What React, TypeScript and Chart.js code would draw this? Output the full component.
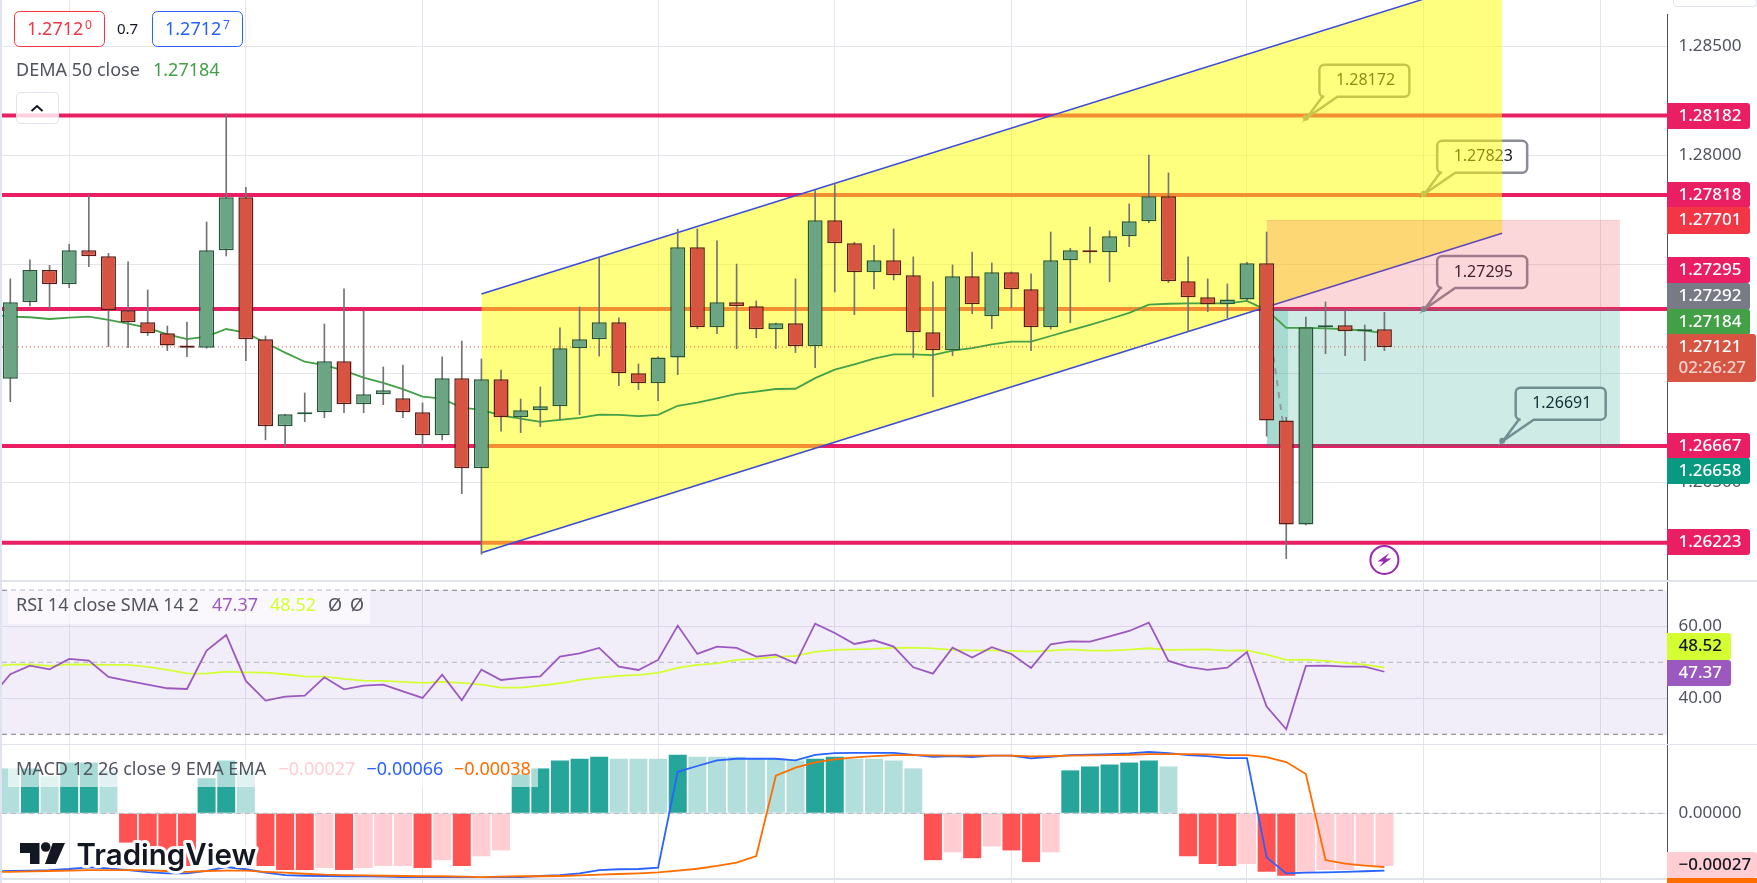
import { useEffect, useRef } from "react"
import { Chart, registerables } from "chart.js"

Chart.register(...registerables)

// Candles, oldest first
const opens = [
  1.26975, 1.27326, 1.27474, 1.27408, 1.27564, 1.27537, 1.27289, 1.27234, 1.27184, 1.27127,
  1.27117, 1.27564, 1.27807, 1.27156, 1.26757, 1.26812, 1.26821, 1.27055, 1.26858, 1.26904,
  1.26885, 1.26821, 1.26716, 1.26977, 1.26564, 1.26973, 1.26798, 1.2683, 1.26849, 1.27115,
  1.27156, 1.27234, 1.27, 1.26954, 1.27073, 1.27578, 1.27211, 1.27326, 1.27307, 1.27202,
  1.27229, 1.27124, 1.27702, 1.27596, 1.27463, 1.27518, 1.2745, 1.27188, 1.27106, 1.27445,
  1.27262, 1.27463, 1.27385, 1.27211, 1.27518, 1.27564, 1.27555, 1.27629, 1.27697, 1.27812,
  1.27422, 1.27349, 1.27317, 1.27339, 1.27505, 1.26784, 1.26307, 1.27211, 1.2722, 1.27193,
  1.27202,
]
const closes = [
  1.27326, 1.27474, 1.27408, 1.27564, 1.27537, 1.27289, 1.27234, 1.27184, 1.27127, 1.27117,
  1.27564, 1.27807, 1.27156, 1.26757, 1.26812, 1.26821, 1.27055, 1.26858, 1.26904, 1.26922,
  1.26821, 1.26716, 1.26977, 1.26564, 1.26973, 1.26798, 1.2683, 1.26849, 1.27115, 1.27156,
  1.27234, 1.27, 1.26954, 1.27073, 1.27578, 1.27211, 1.27326, 1.27307, 1.27202, 1.27229,
  1.27124, 1.27702, 1.27596, 1.27463, 1.27518, 1.2745, 1.27188, 1.27106, 1.27445, 1.27317,
  1.27463, 1.27385, 1.27211, 1.27518, 1.27564, 1.27555, 1.27629, 1.27697, 1.27812, 1.27422,
  1.27349, 1.27317, 1.27339, 1.27505, 1.26784, 1.26307, 1.27211, 1.2722, 1.27193, 1.27202,
  1.27121,
]
const highs = [
  1.27433, 1.2752, 1.27495, 1.27592, 1.27818, 1.2755, 1.27511, 1.27382, 1.27217, 1.27235,
  1.27694, 1.28189, 1.27853, 1.27171, 1.26812, 1.2691, 1.27226, 1.27387, 1.27286, 1.27029,
  1.27038, 1.26864, 1.27075, 1.27148, 1.27066, 1.27015, 1.26882, 1.26937, 1.27208, 1.27304,
  1.27529, 1.27254, 1.27043, 1.27075, 1.27661, 1.27662, 1.27607, 1.27501, 1.27332, 1.2723,
  1.27433, 1.27838, 1.27872, 1.27601, 1.27587, 1.27662, 1.27534, 1.27419, 1.27497, 1.27556,
  1.27506, 1.27465, 1.27456, 1.27648, 1.27573, 1.27671, 1.27653, 1.27777, 1.28001, 1.27919,
  1.27534, 1.27433, 1.2741, 1.27509, 1.27648, 1.26798, 1.27258, 1.27327, 1.27286, 1.27222,
  1.2728,
]
const lows = [
  1.2687, 1.27309, 1.27294, 1.27393, 1.27489, 1.27122, 1.27117, 1.27173, 1.27104, 1.27076,
  1.27115, 1.27538, 1.27058, 1.26695, 1.26663, 1.26778, 1.26796, 1.26819, 1.26819, 1.26856,
  1.26796, 1.26663, 1.26695, 1.26448, 1.2617, 1.26735, 1.26728, 1.26755, 1.26786, 1.2681,
  1.27079, 1.26943, 1.26925, 1.26874, 1.26994, 1.27205, 1.27182, 1.27113, 1.27163, 1.27113,
  1.27095, 1.27026, 1.27373, 1.27269, 1.27387, 1.27428, 1.27072, 1.26893, 1.27081, 1.27273,
  1.27205, 1.27301, 1.27104, 1.27203, 1.27232, 1.27506, 1.2742, 1.27581, 1.27691, 1.27416,
  1.27191, 1.27283, 1.27255, 1.27335, 1.26712, 1.2615, 1.26305, 1.2709, 1.27081, 1.27058,
  1.27104,
]
const dema = [
  1.2726, 1.27257, 1.27249, 1.27255, 1.2726, 1.27245, 1.27228, 1.27208, 1.27179, 1.27157,
  1.27168, 1.27203, 1.27186, 1.2714, 1.27095, 1.27053, 1.27037, 1.27012, 1.2698, 1.26956,
  1.26927, 1.26893, 1.26884, 1.26842, 1.26832, 1.26807, 1.26792, 1.26777, 1.26786, 1.26796,
  1.2681, 1.26809, 1.26804, 1.26809, 1.26851, 1.26865, 1.26885, 1.26906, 1.26916, 1.26928,
  1.26929, 1.26978, 1.27017, 1.27041, 1.27067, 1.27087, 1.27087, 1.27083, 1.27104, 1.27115,
  1.27133, 1.27145, 1.27145, 1.27171, 1.27197, 1.27222, 1.27249, 1.27277, 1.27315, 1.27319,
  1.27321, 1.27321, 1.27321, 1.27332, 1.2729, 1.27208, 1.27208, 1.27206, 1.27202, 1.27196,
  1.27184,
]
const rsi = [
  46.67, 49.07, 48.06, 50.93, 50.46, 45.93, 44.81, 43.8, 42.78, 42.59,
  53.24, 57.59, 44.81, 39.35, 40.46, 40.74, 45.83, 42.5, 43.52, 43.8,
  41.94, 40.09, 46.57, 39.44, 47.96, 45.09, 45.65, 46.11, 51.57, 52.5,
  53.98, 48.8, 47.87, 50.65, 60.19, 52.31, 54.35, 53.98, 51.57, 52.13,
  49.72, 60.74, 58.15, 55.09, 56.11, 54.35, 48.61, 46.85, 54.07, 51.3,
  54.17, 52.31, 48.43, 55.0, 55.83, 55.74, 57.22, 58.7, 61.02, 50.37,
  48.7, 47.87, 48.52, 52.87, 37.69, 31.39, 48.98, 49.07, 48.8, 48.8,
  47.37,
]
const rsiSma = [
  49.35, 49.44, 48.98, 49.44, 49.35, 49.26, 49.26, 48.7, 47.87, 46.94,
  46.85, 47.41, 47.22, 47.13, 46.67, 46.11, 46.02, 45.37, 44.91, 44.81,
  44.54, 44.26, 44.54, 44.26, 43.8, 42.96, 42.96, 43.52, 44.17, 45.09,
  45.74, 46.2, 46.48, 47.04, 48.43, 49.26, 49.72, 50.65, 51.02, 51.48,
  51.76, 52.87, 53.43, 53.61, 53.7, 53.98, 54.07, 53.89, 53.43, 53.33,
  53.33, 53.15, 52.96, 53.24, 53.61, 53.24, 53.24, 53.52, 53.89, 53.43,
  53.52, 53.61, 53.24, 53.33, 52.13, 50.65, 50.74, 50.37, 49.81, 49.35,
  48.52,
]
const histogram = [
  0.00023, 0.00023, 0.00019, 0.00026, 0.00026, 0.00022, -0.00015, -0.00017, -0.00021, -0.00027,
  0.00018, 0.00027, 0.00022, -0.00027, -0.00029, -0.00029, -0.00028, -0.00029, -0.00028, -0.00027,
  -0.00027, -0.00028, -0.00024, -0.00027, -0.00022, -0.00019, 0.0002, 0.00023, 0.00027, 0.00028,
  0.00029, 0.00028, 0.00028, 0.00028, 0.0003, 0.00029, 0.00029, 0.00029, 0.00028, 0.00028,
  0.00027, 0.00028, 0.00029, 0.00028, 0.00028, 0.00027, 0.00023, -0.00024, -0.0002, -0.00023,
  -0.00017, -0.00019, -0.00025, -0.0002, 0.00022, 0.00024, 0.00025, 0.00026, 0.00027, 0.00024,
  -0.00022, -0.00026, -0.00027, -0.00026, -0.0003, -0.00032, -0.0003, -0.00029, -0.00029, -0.00027,
  -0.00027,
]
// 1 = strong histogram colour, 0 = faded
const histogramStrong = [
  0, 1, 0, 1, 1, 0, 1, 1, 1, 1,
  1, 1, 0, 1, 1, 1, 0, 1, 0, 0,
  0, 1, 0, 1, 0, 0, 1, 1, 1, 1,
  1, 0, 0, 0, 1, 0, 0, 0, 0, 0,
  0, 1, 1, 0, 0, 0, 0, 1, 0, 1,
  0, 1, 1, 0, 1, 1, 1, 1, 1, 0,
  1, 1, 1, 0, 1, 1, 0, 0, 0, 0,
  0,
]
const macd = [
  -0.00068, -0.00065, -0.00061, -0.00053, -0.0004, -0.00048, -0.00061, -0.00076, -0.00086, -0.00086,
  -0.00068, -0.00038, -0.00055, -0.00081, -0.00099, -0.00104, -0.00106, -0.00108, -0.00108, -0.00111,
  -0.00114, -0.00114, -0.00116, -0.00116, -0.00119, -0.00116, -0.00114, -0.00106, -0.00099, -0.00086,
  -0.00061, -0.00055, -0.00053, -0.00043, 0.00683, 0.00727, 0.0077, 0.00782, 0.00782, 0.00782,
  0.0077, 0.00812, 0.00825, 0.00827, 0.00827, 0.00827, 0.00812, 0.00797, 0.00802, 0.00795,
  0.00805, 0.00805, 0.00785, 0.00797, 0.0081, 0.00812, 0.00817, 0.00823, 0.00833, 0.00825,
  0.0081, 0.00802, 0.00787, 0.00787, 0.00035, -0.00086, -0.00081, -0.00078, -0.00074, -0.0007,
  -0.00066,
]
const macdSignal = [
  -0.00074, -0.00071, -0.00068, -0.00066, -0.00061, -0.00061, -0.00061, -0.00063, -0.00068, -0.00074,
  -0.00068, -0.00066, -0.00066, -0.00074, -0.00081, -0.00089, -0.00096, -0.00099, -0.00101, -0.00104,
  -0.00106, -0.00108, -0.00108, -0.00111, -0.00114, -0.00111, -0.00108, -0.00108, -0.00106, -0.00101,
  -0.00096, -0.00091, -0.00086, -0.00078, -0.00066, -0.00051, -0.0003, -0.00005, 0.00045, 0.00653,
  0.00714, 0.00755, 0.00777, 0.00792, 0.00802, 0.0081, 0.0081, 0.00808, 0.00805, 0.00805,
  0.00805, 0.00805, 0.008, 0.00802, 0.00805, 0.00808, 0.0081, 0.00812, 0.00817, 0.00817,
  0.00817, 0.00815, 0.0081, 0.0081, 0.00795, 0.00757, 0.00666, 0.00015, -0.00013, -0.00028,
  -0.00038,
]

// readings of the bar just off the left edge, so the lines run into the frame
const demaBefore = 1.27271
const rsiBefore = 40.19
const rsiSmaBefore = 48.9
const macdBefore = -0.0007
const macdSignalBefore = -0.00077

const levels = [1.28182, 1.27818, 1.27295, 1.26667, 1.26223]
const lastPrice = 1.27121
const priceTicks = [1.285, 1.28, 1.275, 1.27, 1.265]
const rsiTicks = [60, 40]
const macdTicks = [0]
const gridBars = [3, 12, 21, 33, 42, 51, 63, 72, 81]

// channel: bar index and price at both ends of each rail
const channelBars = [24, 76]
const channelUpper = [1.27364, 1.28829]
const channelLower = [1.26177, 1.27642]

// long position drawing
const positionBars = [64, 82]
const positionEntry = 1.27295
const positionTarget = 1.26667
const positionStop = 1.27701
const filledBars = [64, 65.1]

const calloutValues = [1.28172, 1.27823, 1.27295, 1.26691]
const calloutBars = [66, 72, 72, 76]
const eventPrice = 1.26144

const tagLabels = ["1.28182", "1.27818", "1.27701", "1.27295", "1.27292", "1.27184", "1.26667", "1.26658", "1.26223"]

const FONT = '"Noto Sans", sans-serif'
const GRID = "#e4e6ec"
const AXIS = "#50535e"
const PLOT_LEFT = 2
const AXIS_WIDTH = 90
const BAR0_X = 10.3
const BAR_STEP = 19.63
const xMin = (PLOT_LEFT - BAR0_X) / BAR_STEP
const xMax = (1667 - BAR0_X) / BAR_STEP
const barIdx = opens.map((_, i) => i)

const xy = (values: number[], before?: number) => {
  const pts = values.map((y, i) => ({ x: i, y }))
  return before === undefined ? pts : [{ x: -1, y: before }, ...pts]
}
const flat = (y: number, from = xMin, to = xMax) => [{ x: from, y }, { x: to, y }]

function xScale() {
  return {
    type: "linear",
    min: xMin,
    max: xMax,
    offset: false,
    afterBuildTicks: (s: any) => {
      s.ticks = gridBars.map((value) => ({ value }))
    },
    ticks: { display: false },
    border: { display: false },
    grid: { color: GRID, lineWidth: 1, drawTicks: false, offset: false },
  }
}

function yScale(min: number, max: number, ticks: number[], decimals: number) {
  return {
    position: "right",
    min,
    max,
    // keep the plot edge to edge: no room for half a tick label above and below
    afterFit: (s: any) => {
      s.width = AXIS_WIDTH
      s.paddingTop = 0
      s.paddingBottom = 0
    },
    afterBuildTicks: (s: any) => {
      s.ticks = ticks.map((value) => ({ value }))
    },
    ticks: {
      padding: 11.5,
      color: "#50535e",
      font: { family: FONT, size: 17 },
      callback: (v: any) => Number(v).toFixed(decimals),
    },
    border: { display: true, color: AXIS, width: 1 },
    grid: { color: GRID, lineWidth: 1, drawTicks: false },
  }
}

function baseOptions(scales: any): any {
  return {
    animation: false,
    responsive: false,
    devicePixelRatio: 1,
    layout: { autoPadding: false, padding: { left: PLOT_LEFT } },
    plugins: { legend: { display: false }, tooltip: { enabled: false } },
    scales,
  }
}

const line = (label: string, data: any[], color: string, width: number, order: number, extra: any = {}) => ({
  type: "line",
  label,
  data,
  borderColor: color,
  borderWidth: width,
  pointRadius: 0,
  tension: 0,
  fill: false,
  order,
  ...extra,
})

function rr(ctx: any, x: number, y: number, w: number, h: number, r: any) {
  ctx.beginPath()
  ctx.roundRect(x, y, w, h, r)
}

function text(ctx: any, s: string, x: number, y: number, color: string, size = 18, weight = "400") {
  ctx.font = `${weight} ${size}px ${FONT}`
  ctx.fillStyle = color
  ctx.textAlign = "left"
  ctx.textBaseline = "middle"
  ctx.fillText(s, x, y)
}

function tag(ctx: any, label: string, top: number, h: number, right: number, bg: string, fg = "#ffffff") {
  ctx.fillStyle = bg
  rr(ctx, 1667, top, right - 1667, h, [0, 3, 3, 0])
  ctx.fill()
  text(ctx, label, 1678.5, top + h / 2, fg, 17, "500")
}

// Callouts sit under the channel and the position boxes, so they get tinted by them
const calloutLayer = {
  id: "calloutLayer",
  afterDatasetDraw(chart: any, args: any) {
    if (chart.data.datasets[args.index].label !== "callouts") return
    const { ctx, scales } = chart
    calloutValues.forEach((value, i) => {
      const ax = scales.x.getPixelForValue(calloutBars[i])
      const ay = scales.y.getPixelForValue(value)
      const l = ax + 13.5
      const t = ay - 53
      const w = 90
      const h = 32
      const r = 5
      ctx.save()
      ctx.beginPath()
      ctx.moveTo(l + r, t)
      ctx.arcTo(l + w, t, l + w, t + h, r)
      ctx.arcTo(l + w, t + h, l, t + h, r)
      ctx.lineTo(l + 18, t + h)
      ctx.lineTo(ax + 1, ay)
      ctx.lineTo(l + 3, t + h)
      ctx.arcTo(l, t + h, l, t, r)
      ctx.arcTo(l, t, l + w, t, r)
      ctx.closePath()
      ctx.fillStyle = "#ffffff"
      ctx.fill()
      ctx.strokeStyle = "#8a8d97"
      ctx.lineWidth = 2.5
      ctx.stroke()
      ctx.fillStyle = "#8a8d97"
      ctx.beginPath()
      ctx.arc(ax, ay, 3, 0, Math.PI * 2)
      ctx.fill()
      text(ctx, value.toFixed(5), l + 16.5, t + h / 2, "#131722", 16)
      ctx.restore()
    })
  },
}

const priceOverlay = {
  id: "priceOverlay",
  afterDraw(chart: any) {
    const { ctx, scales } = chart
    ctx.save()
    // order buttons
    ctx.lineWidth = 1
    ctx.fillStyle = "#ffffff"
    ctx.strokeStyle = "#f23645"
    rr(ctx, 14.5, 11.5, 90, 35, 5)
    ctx.fill()
    ctx.stroke()
    text(ctx, "1.2712", 27, 30, "#f23645")
    text(ctx, "0", 85, 26, "#f23645", 12)
    text(ctx, "0.7", 117, 30, "#131722", 15)
    ctx.fillStyle = "#ffffff"
    ctx.strokeStyle = "#2962ff"
    rr(ctx, 152.5, 11.5, 90, 35, 5)
    ctx.fill()
    ctx.stroke()
    text(ctx, "1.2712", 165, 30, "#2962ff")
    text(ctx, "7", 223, 26, "#2962ff", 12)
    // legend
    text(ctx, "DEMA 50 close", 16, 71, "#50535e")
    text(ctx, dema[dema.length - 1].toFixed(5), 153, 71, "#43a047")
    // collapse button
    ctx.fillStyle = "rgba(255,255,255,0.8)"
    ctx.strokeStyle = "#e0e3eb"
    rr(ctx, 16.5, 92.5, 42, 31, 4)
    ctx.fill()
    ctx.stroke()
    ctx.strokeStyle = "#131722"
    ctx.lineWidth = 2
    ctx.beginPath()
    ctx.moveTo(31.5, 111)
    ctx.lineTo(37, 106)
    ctx.lineTo(42.5, 111)
    ctx.stroke()
    // event marker under the last candle
    const ex = scales.x.getPixelForValue(opens.length - 1)
    const ey = scales.y.getPixelForValue(eventPrice)
    ctx.fillStyle = "#ffffff"
    ctx.strokeStyle = "#9c27b0"
    ctx.lineWidth = 2
    ctx.beginPath()
    ctx.arc(ex, ey, 14, 0, Math.PI * 2)
    ctx.fill()
    ctx.stroke()
    ctx.fillStyle = "#9c27b0"
    ctx.beginPath()
    ctx.moveTo(ex + 5, ey - 7)
    ctx.lineTo(ex - 7, ey + 1.5)
    ctx.lineTo(ex - 1, ey + 1.5)
    ctx.lineTo(ex - 5, ey + 7)
    ctx.lineTo(ex + 7, ey - 1.5)
    ctx.lineTo(ex + 1, ey - 1.5)
    ctx.closePath()
    ctx.fill()
    // price tags
    const colors = ["#e91e63", "#e91e63", "#f23645", "#e91e63", "#787b86", "#43a047", "#e91e63", "#089981", "#e91e63"]
    const tops = [103, 182, 207, 257, 283, 309, 433, 458, 529]
    tagLabels.forEach((l, i) => tag(ctx, l, tops[i], i === 2 || i === 4 ? 27 : 26, 1750, colors[i]))
    ctx.fillStyle = "#d75442"
    rr(ctx, 1667, 334, 89, 48, [0, 3, 3, 0])
    ctx.fill()
    text(ctx, lastPrice.toFixed(5), 1678.5, 347.5, "#ffffff", 17, "500")
    text(ctx, "02:26:27", 1678.5, 368, "rgba(255,255,255,0.75)", 17, "500")
    ctx.restore()
  },
}

const rsiOverlay = {
  id: "rsiOverlay",
  afterDraw(chart: any) {
    const { ctx } = chart
    ctx.save()
    ctx.translate(0, -582)
    ctx.fillStyle = "rgba(255,255,255,0.6)"
    ctx.fillRect(8, 590, 362, 34)
    text(ctx, "RSI 14 close SMA 14 2", 16, 606, "#50535e")
    text(ctx, "47.37", 212, 606, "#9b59c0", 18)
    text(ctx, "48.52", 270, 606, "#d4ff33", 18)
    text(ctx, "Ø", 328, 606, "#50535e")
    text(ctx, "Ø", 350, 606, "#50535e")
    tag(ctx, "48.52", 633, 27, 1731, "#d4ff33", "#131722")
    tag(ctx, "47.37", 660, 26, 1731, "#9b59c0")
    ctx.restore()
  },
}

const macdOverlay = {
  id: "macdOverlay",
  afterDraw(chart: any) {
    const { ctx } = chart
    ctx.save()
    ctx.translate(0, -745)
    ctx.fillStyle = "rgba(255,255,255,0.6)"
    ctx.fillRect(8, 760, 530, 27)
    text(ctx, "MACD 12 26 close 9 EMA EMA", 16, 769.5, "#50535e")
    text(ctx, "−0.00027", 278.5, 769.5, "#ffcdd2")
    text(ctx, "−0.00066", 366.5, 769.5, "#2962ff")
    text(ctx, "−0.00038", 454, 769.5, "#ff6d00")
    // logo with a white halo
    ctx.lineJoin = "round"
    ctx.font = `600 29.5px "Inter", ${FONT}`
    ctx.textAlign = "left"
    ctx.textBaseline = "alphabetic"
    ctx.strokeStyle = "#ffffff"
    ctx.lineWidth = 6
    ctx.strokeText("TradingView", 76.5, 864.5)
    ctx.fillStyle = "#131722"
    ctx.fillText("TradingView", 76.5, 864.5)
    ctx.beginPath()
    ctx.moveTo(20, 843)
    ctx.lineTo(39.5, 843)
    ctx.lineTo(39.5, 864)
    ctx.lineTo(30, 864)
    ctx.lineTo(30, 853)
    ctx.lineTo(20, 853)
    ctx.closePath()
    ctx.moveTo(52.7, 843)
    ctx.lineTo(65, 843)
    ctx.lineTo(55.7, 864)
    ctx.lineTo(45, 864)
    ctx.closePath()
    ctx.fill()
    ctx.beginPath()
    ctx.arc(45.7, 847, 4.8, 0, Math.PI * 2)
    ctx.fill()
    tag(ctx, "−0.00027", 852, 26, 1757, "#ffcdd2", "#131722")
    ctx.fillStyle = "#ff6d00"
    ctx.fillRect(1667, 878, 90, 5)
    ctx.restore()
  },
}

function buildPrice(canvas: HTMLCanvasElement) {
  const up = barIdx.map((i) => closes[i] >= opens[i])
  const datasets: any[] = [
    ...levels.map((v, i) => line(`level ${i}`, flat(v), "#e91e63", 4, 100)),
    line("callouts", [], "#000000", 0, 90),
    line("channel upper", channelBars.map((x, i) => ({ x, y: channelUpper[i] })), "#3b4cd6", 1.5, 80, {
      fill: { target: "+1" },
      backgroundColor: "rgba(255,255,0,0.5)",
    }),
    line("channel lower", channelBars.map((x, i) => ({ x, y: channelLower[i] })), "#3b4cd6", 1.5, 79),
    line("stop top", flat(positionStop, positionBars[0], positionBars[1]), "rgba(242,54,69,0.2)", 1, 70, {
      fill: { target: "+1" },
      backgroundColor: "rgba(242,54,69,0.2)",
    }),
    line("entry", flat(positionEntry, positionBars[0], positionBars[1]), "rgba(120,123,134,0.6)", 1, 70, {
      fill: { target: "+1" },
      backgroundColor: "rgba(8,153,129,0.2)",
    }),
    line("target", flat(positionTarget, positionBars[0], positionBars[1]), "rgba(8,153,129,0.2)", 1, 70),
    line("filled top", flat(positionEntry, filledBars[0], filledBars[1]), "rgba(8,153,129,0.2)", 0, 68, {
      fill: { target: "+1" },
      backgroundColor: "rgba(8,153,129,0.2)",
    }),
    line("filled bottom", flat(positionTarget, filledBars[0], filledBars[1]), "rgba(8,153,129,0.2)", 0, 68),
    line("filled path", [{ x: 64, y: positionEntry }, { x: 65, y: positionTarget }], "#9598a1", 2, 66, {
      borderDash: [6, 6],
    }),
    line("DEMA", xy(dema, demaBefore), "#43a047", 1.8, 50),
    line("last price", flat(lastPrice), "#d75442", 1, 45, { borderDash: [1, 3] }),
    {
      type: "bar",
      label: "wicks",
      data: barIdx.map((i) => ({ x: i, y: [lows[i], highs[i]] })),
      backgroundColor: "#737375",
      barThickness: 1,
      grouped: false,
      order: 20,
    },
    {
      type: "bar",
      label: "bodies",
      data: barIdx.map((i) => ({ x: i, y: [opens[i], closes[i]] })),
      backgroundColor: up.map((u) => (u ? "#6ba583" : "#d75442")),
      borderColor: up.map((u) => (u ? "#225437" : "#5b1a13")),
      borderWidth: 1.5,
      borderSkipped: false,
      inflateAmount: 0,
      barThickness: 15,
      grouped: false,
      order: 10,
    },
  ]
  return new Chart(canvas, {
    type: "bar",
    data: { datasets },
    options: baseOptions({
      x: xScale(),
      y: yScale(1.26052, 1.28712, priceTicks, 5),
    }),
    plugins: [calloutLayer, priceOverlay],
  } as any)
}

function buildRsi(canvas: HTMLCanvasElement) {
  const datasets: any[] = [
    line("band top", flat(70), "#787b86", 1, 60, {
      borderDash: [5, 4],
      fill: { target: "+1" },
      backgroundColor: "rgba(126,87,194,0.1)",
    }),
    line("band bottom", flat(30), "#787b86", 1, 60, { borderDash: [5, 4] }),
    line("middle", flat(50), "#b2b5be", 1, 55, { borderDash: [5, 4] }),
    line("RSI", xy(rsi, rsiBefore), "#9b59c0", 1.8, 20),
    line("RSI SMA", xy(rsiSma, rsiSmaBefore), "#d4ff33", 1.8, 25),
  ]
  return new Chart(canvas, {
    type: "line",
    data: { datasets },
    options: baseOptions({
      x: xScale(),
      y: yScale(27.3, 72.3, rsiTicks, 2),
    }),
    plugins: [rsiOverlay],
  } as any)
}

function buildMacd(canvas: HTMLCanvasElement) {
  const datasets: any[] = [
    {
      type: "bar",
      label: "Histogram",
      data: xy(histogram),
      backgroundColor: histogram.map((v, i) =>
        v >= 0 ? (histogramStrong[i] ? "#26a69a" : "#b2dfdb") : histogramStrong[i] ? "#ff5252" : "#ffcdd2",
      ),
      barThickness: 18,
      inflateAmount: 0,
      grouped: false,
      order: 40,
    },
    line("zero", flat(0), "#b2b5be", 1, 35, { borderDash: [5, 4] }),
    line("Signal", xy(macdSignal, macdSignalBefore), "#ff6d00", 1.8, 20, { yAxisID: "lines" }),
    line("MACD", xy(macd, macdBefore), "#2962ff", 1.8, 25, { yAxisID: "lines" }),
  ]
  return new Chart(canvas, {
    type: "bar",
    data: { datasets },
    options: baseOptions({
      x: xScale(),
      y: yScale(-0.000357, 0.00035, macdTicks, 5),
      lines: { display: false, position: "right", min: -0.00159, max: 0.00886 },
    }),
    plugins: [macdOverlay],
  } as any)
}

const abs = (left: number, top: number, width: number, height: number, background?: string): any => ({
  position: "absolute",
  left,
  top,
  width,
  height,
  background,
  display: "block",
})

export default function App() {
  const priceRef = useRef<HTMLCanvasElement>(null)
  const rsiRef = useRef<HTMLCanvasElement>(null)
  const macdRef = useRef<HTMLCanvasElement>(null)

  useEffect(() => {
    if (!priceRef.current || !rsiRef.current || !macdRef.current) return
    const charts = [buildPrice(priceRef.current), buildRsi(rsiRef.current), buildMacd(macdRef.current)]
    return () => charts.forEach((c) => c.destroy())
  }, [])

  return (
    <div style={{ position: "fixed", left: 0, top: 0, width: 1757, height: 883, background: "#fff", overflow: "hidden" }}>
      <canvas ref={priceRef} width={1757} height={580} style={abs(0, 0, 1757, 580)} />
      <canvas ref={rsiRef} width={1757} height={162} style={abs(0, 582, 1757, 162)} />
      <canvas ref={macdRef} width={1757} height={138} style={abs(0, 745, 1757, 138)} />
      <div style={abs(0, 580, 1757, 2, "#e0e3eb")} />
      <div style={abs(0, 744, 1757, 1, "#e0e3eb")} />
      <div style={abs(0, 878, 1667, 2, "#e0e3eb")} />
      <div style={abs(0, 0, 2, 883, "#dfe3f0")} />
      <div style={abs(1667, 0, 90, 14, "#fff")} />
      <div style={{ ...abs(1673, -6, 84, 13, "#fff"), border: "1px solid #e0e3eb", borderRadius: 4, boxSizing: "border-box" }} />
    </div>
  )
}
